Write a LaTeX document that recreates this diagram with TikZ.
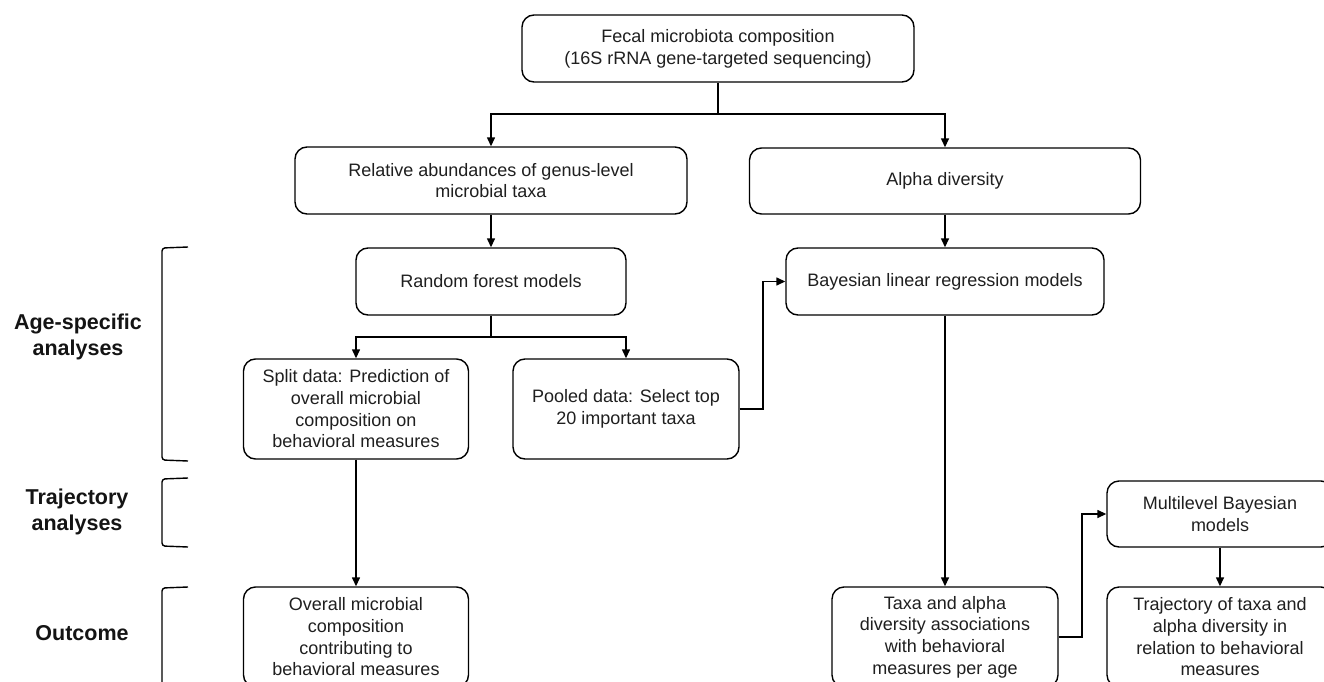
\documentclass[tikz,border=0pt]{standalone}
\usepackage{fontspec}
\setmainfont{Liberation Sans}
\usetikzlibrary{arrows.meta}
\begin{document}
\begin{tikzpicture}[x=1pt,y=-1pt,
  box/.style={draw=black, line width=1.4pt, rounded corners=12pt, inner sep=0pt,
    align=center, text=black!88, font=\fontsize{18}{21.7}\selectfont},
  lab/.style={align=center, text=black!92, font=\fontsize{21.5}{26}\selectfont\bfseries},
  conn/.style={draw=black, line width=1.4pt},
  arr/.style={conn, -{Triangle[length=9pt,width=8pt]}},
  brk/.style={draw=black, line width=1.4pt, rounded corners=3pt}]
\clip (0,0) rectangle (1324,682);
\fill[white] (0,0) rectangle (1324,682);

% boxes
\node[box, minimum width=392pt, minimum height=67pt] (top) at (718,48.5)
  {Fecal microbiota composition\\(16S rRNA gene-targeted sequencing)};
\node[box, minimum width=392pt, minimum height=67pt] (rel) at (491,180.5)
  {Relative abundances of genus-level\\microbial taxa};
\node[box, minimum width=391pt, minimum height=66pt] (alpha) at (945,181)
  {Alpha diversity};
\node[box, minimum width=270pt, minimum height=67pt] (rf) at (491,281.5)
  {Random forest models};
\node[box, minimum width=318pt, minimum height=67pt] (bayes) at (945,281.5)
  {Bayesian linear regression models};
\node[box, minimum width=225pt, minimum height=100pt] (split) at (356,409)
  {Split data: Prediction of\\overall microbial\\composition on\\behavioral measures};
\node[box, minimum width=226pt, minimum height=100pt] (pooled) at (626,409)
  {Pooled data: Select top\\20 important taxa};
\node[box, minimum width=225pt, minimum height=100pt] (overall) at (356,637)
  {Overall microbial\\composition\\contributing to\\behavioral measures};
\node[box, minimum width=226pt, minimum height=100pt] (taxa) at (945,637)
  {Taxa and alpha\\diversity associations\\with behavioral\\measures per age};
\node[box, minimum width=226pt, minimum height=66pt] (multi) at (1220,514)
  {Multilevel Bayesian\\models};
\node[box, minimum width=226pt, minimum height=100pt] (traj) at (1220,637)
  {Trajectory of taxa and\\alpha diversity in\\relation to behavioral\\measures};

% junctions
\coordinate (j1) at (718,114);
\coordinate (j2) at (491,337);
\coordinate (c1) at (763,0);
\coordinate (c2) at (1082,0);

% connectors
\draw[conn] (top.south) -- (j1);
\draw[arr] (j1) -| (rel.north);
\draw[arr] (j1) -| (alpha.north);
\draw[arr] (rel.south) -- (rf.north);
\draw[arr] (alpha.south) -- (bayes.north);
\draw[conn] (rf.south) -- (j2);
\draw[arr] (j2) -| (split.north);
\draw[arr] (j2) -| (pooled.north);
\draw[arr] (pooled.east) -| (c1 |- bayes.west) -- (bayes.west);
\draw[arr] (split.south) -- (overall.north);
\draw[arr] (bayes.south) -- (taxa.north);
\draw[arr] (taxa.east) -| (c2 |- multi.west) -- (multi.west);
\draw[arr] (multi.south) -- (traj.north);

% left brackets
\draw[brk] (188,247) -- (162,248) -- (162,460) -- (188,461);
\draw[brk] (188,478) -- (162,479) -- (162,546) -- (188,547);
\draw[brk] (188,587) -- (162,588) -- (162,700);

% left labels
\node[lab] (lage) at (78,337) {Age-specific\\analyses};
\node[lab] (ltraj) at (77,512) {Trajectory\\analyses};
\node[lab] (lout) at (82,633) {Outcome};
\end{tikzpicture}
\end{document}
